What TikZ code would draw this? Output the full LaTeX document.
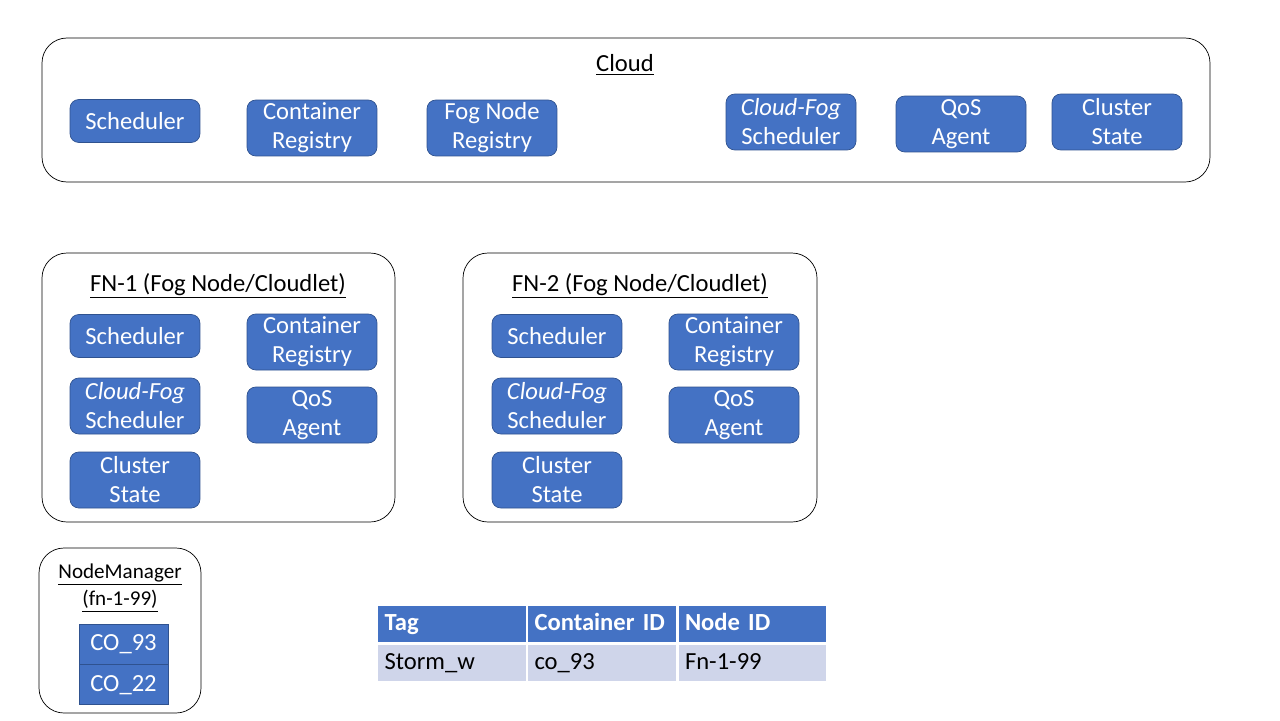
\documentclass[tikz,border=0pt]{standalone}
\usepackage{fontspec}
\setmainfont{Carlito}
\usetikzlibrary{positioning}
\definecolor{boxblue}{HTML}{4472C4}
\definecolor{boxedge}{HTML}{2F528F}
\definecolor{rowblue}{HTML}{CFD5EA}
\newcommand{\bodyfont}{\fontsize{14}{16.5}\selectfont}
\tikzset{
  comp/.style={draw=boxedge, fill=boxblue, text=white, rounded corners=5pt, align=center,
    minimum width=2.6cm, minimum height=1.12cm, inner sep=1pt},
  compone/.style={comp, minimum height=0.86cm},
  group/.style={draw=black, rounded corners=0.5cm},
  cell/.style={draw=white, line width=1.2pt, minimum height=0.76cm, text width=2.7cm,
    text height=10pt, text depth=3pt, inner xsep=0.15cm, align=left},
  headcell/.style={cell, fill=boxblue, text=white, font=\bodyfont\bfseries},
  bodycell/.style={cell, fill=rowblue, text=black},
  cocell/.style={draw=boxedge, fill=boxblue, text=white, minimum width=1.78cm, minimum height=0.8cm}
}

\begin{document}
\begin{tikzpicture}[x=0.02cm, y=-0.02cm, font=\bodyfont]
            \useasboundingbox[fill=white] (0,0) rectangle (1280,720);

            % cloud
            \draw[group] (42,38) rectangle (1210,182);
            \node (cloudtitle) at (625,65) {\underline{Cloud}};
            \node[compone] (csched) at (135,121) {Scheduler};
            \node[comp] (creg) at (312,128) {Container\\Registry};
            \node[comp] (cfnreg) at (492,128) {Fog Node\\Registry};
            \node[comp] (ccfsched) at (791,122) {\textit{Cloud-Fog}\\Scheduler};
            \node[comp] (cqos) at (961,124) {QoS\\Agent};
            \node[comp] (cstate) at (1117,122) {Cluster\\State};

            % fog node 1
            \draw[group] (42,253) rectangle (395,522);
            \node (fna) at (218,286) {\underline{FN-1 (Fog Node/Cloudlet)}};
            \node[compone] (fnasched) at (135,336) {Scheduler};
            \node[comp] (fnareg) at (312,342) {Container\\Registry};
            \node[comp] (fnacfsched) at (135,406) {\textit{Cloud-Fog}\\Scheduler};
            \node[comp] (fnaqos) at (312,415) {QoS\\Agent};
            \node[comp] (fnastate) at (135,480) {Cluster\\State};

            % fog node 2
            \draw[group] (463,253) rectangle (817,522);
            \node (fnb) at (640,286) {\underline{FN-2 (Fog Node/Cloudlet)}};
            \node[compone] (fnbsched) at (557,336) {Scheduler};
            \node[comp] (fnbreg) at (734,342) {Container\\Registry};
            \node[comp] (fnbcfsched) at (557,406) {\textit{Cloud-Fog}\\Scheduler};
            \node[comp] (fnbqos) at (734,415) {QoS\\Agent};
            \node[comp] (fnbstate) at (557,480) {Cluster\\State};

            % node manager
            \draw[group] (39,548) rectangle (201,713);
            \node[align=center, font=\fontsize{12}{15.4}\selectfont] (nm) at (120,588) {\underline{NodeManager}\\\underline{(fn-1-99)}};
            \node[cocell] (coa) at (123.5,644) {CO\_93};
            \node[cocell, below=0pt of coa] (cob) {CO\_22};

            % table
            \node[headcell] (htag) at (452,624) {Tag};
            \node[headcell] (hcont) at (602,624) {Container ID};
            \node[headcell] (hnode) at (752.5,624) {Node ID};
            \node[bodycell] (btag) at (452,663) {Storm\_w};
            \node[bodycell] (bcont) at (602,663) {co\_93};
            \node[bodycell] (bnode) at (752.5,663) {Fn-1-99};
        \end{tikzpicture}
\end{document}
